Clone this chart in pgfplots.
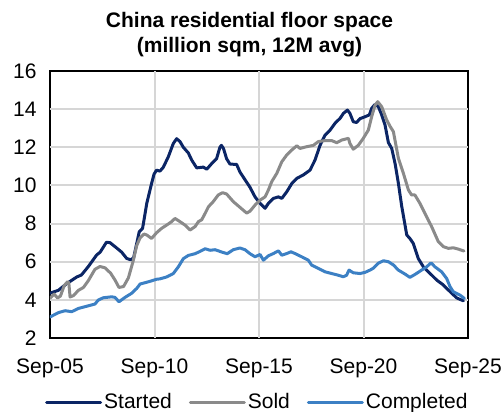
\documentclass[border=0pt]{standalone}
\usepackage{pgfplots}
\pgfplotsset{compat=1.18}
\usepackage{fontspec}
\setmainfont{Liberation Sans}
\definecolor{cStarted}{HTML}{0B2565}
\definecolor{cSold}{HTML}{8A8A8A}
\definecolor{cCompleted}{HTML}{3C80C4}
\definecolor{cGrid}{HTML}{D6D6D6}
\begin{document}
\begin{tikzpicture}
\useasboundingbox (-50pt,-74pt) rectangle (453pt,338pt);
\begin{axis}[
  scale only axis,
  width=418pt, height=267pt,
  at={(0pt,0pt)}, anchor=south west,
  xmin=0, xmax=20, ymin=2, ymax=16,
  xtick={0,5,10,15,20},
  xticklabels={Sep-05,Sep-10,Sep-15,Sep-20,Sep-25},
  ytick={2,4,...,16},
  major tick length=0pt,
  axis line style={draw=black, line width=1.3pt},
  /pgf/number format/assume math mode=true,
  tick label style={font=\fontsize{21}{24}\selectfont, text=black},
  xticklabel style={yshift=-17pt},
  yticklabel style={xshift=-10pt},
  legend style={at={(0.4960,-0.2397)}, anchor=center, draw=none, fill=none,
    font=\fontsize{21}{24}\selectfont, legend columns=3,
    /tikz/every even column/.append style={column sep=15pt},
    /tikz/every odd column/.append style={column sep=0pt}},
  legend image code/.code={\draw[#1] (0pt,0pt) -- (54pt,0pt);},
  every axis plot/.append style={line width=3pt, line join=round, line cap=round, mark=none},
  clip mode=individual,
]
\pgfplotsinvokeforeach{4,6,8,10,12,14}{
  \draw[cGrid, line width=2pt] (axis cs:0,#1) -- (axis cs:20,#1);
}
\pgfplotsinvokeforeach{5,10,15}{
  \draw[cGrid, line width=2pt] (axis cs:#1,2) -- (axis cs:#1,16);
}
\addplot[cStarted] coordinates {
(0,4.35) (0.4,4.5) (0.8,4.85) (1.28,5.2) (1.5,5.3) (1.83,5.74) (2.23,6.35) (2.4,6.5)
(2.7,7.02) (2.87,7.0) (3.1,6.8) (3.43,6.5) (3.67,6.17) (3.86,6.1) (4.0,6.2) (4.15,6.96)
(4.27,7.57) (4.43,7.75) (4.63,9.06) (4.86,10.1) (4.98,10.6) (5.1,10.8) (5.26,10.75) (5.42,10.95)
(5.66,11.5) (5.9,12.2) (6.06,12.45) (6.22,12.3) (6.38,12.0) (6.62,11.7) (6.78,11.33) (7.02,10.92)
(7.34,10.96) (7.5,10.85) (7.74,11.15) (7.97,11.4) (8.13,12.0) (8.2,12.1) (8.3,11.94) (8.45,11.4)
(8.61,11.12) (8.93,11.1) (9.09,10.7) (9.33,10.3) (9.57,9.9) (9.81,9.4) (10.05,9.06) (10.29,8.8)
(10.45,9.06) (10.69,9.32) (10.93,9.4) (11.09,9.32) (11.33,9.67) (11.57,10.1) (11.81,10.37) (12.12,10.55)
(12.44,10.8) (12.68,11.33) (12.92,12.1) (13.16,12.64) (13.4,12.9) (13.64,13.26) (13.88,13.52) (14.04,13.78)
(14.23,13.95) (14.35,13.78) (14.51,13.34) (14.67,13.3) (14.83,13.5) (15.07,13.6) (15.28,13.7) (15.39,14.04)
(15.55,14.25) (15.71,14.13) (15.87,13.7) (16.03,13.17) (16.19,12.25) (16.35,11.94) (16.51,11.15) (16.67,10.1)
(16.83,8.9) (17.07,7.4) (17.22,7.22) (17.38,6.96) (17.62,6.17) (17.86,5.74) (18.18,5.39) (18.5,5.04)
(18.82,4.78) (19.14,4.43) (19.46,4.1) (19.78,3.95)
};
\addlegendentry{Started}
\addplot[cSold] coordinates {
(0,4.08) (0.2,4.3) (0.36,4.1) (0.5,4.2) (0.68,4.75) (0.84,4.95) (0.9,4.9) (0.96,4.15)
(1.12,4.22) (1.36,4.5) (1.6,4.65) (1.83,5.0) (2.15,5.6) (2.39,5.75) (2.63,5.68) (2.9,5.4)
(3.11,5.04) (3.3,4.65) (3.52,4.7) (3.75,5.15) (3.97,6.0) (4.15,6.85) (4.31,7.25) (4.5,7.45)
(4.63,7.4) (4.86,7.22) (5.1,7.52) (5.34,7.75) (5.58,7.92) (5.82,8.1) (5.98,8.27) (6.22,8.1)
(6.46,7.92) (6.7,7.66) (6.94,7.84) (7.1,8.1) (7.26,8.2) (7.42,8.53) (7.58,8.88) (7.81,9.15)
(8.05,9.5) (8.26,9.62) (8.45,9.55) (8.77,9.15) (9.09,8.85) (9.41,8.55) (9.57,8.65) (9.81,8.97)
(10.05,9.23) (10.29,9.4) (10.45,9.76) (10.61,10.2) (10.85,10.63) (11.09,11.24) (11.33,11.6) (11.57,11.86)
(11.81,12.08) (11.96,11.94) (12.28,12.03) (12.6,12.1) (12.84,12.3) (13.16,12.35) (13.48,12.35) (13.72,12.24)
(13.96,12.38) (14.28,12.47) (14.35,12.2) (14.51,11.9) (14.75,12.1) (14.99,12.47) (15.23,12.9) (15.39,13.6)
(15.55,14.2) (15.68,14.39) (15.87,14.13) (16.11,13.43) (16.27,13.1) (16.43,12.82) (16.67,11.42) (16.91,10.63)
(17.15,9.76) (17.3,9.5) (17.46,9.5) (17.7,9.06) (17.94,8.53) (18.26,7.84) (18.58,7.05) (18.82,6.79)
(19.06,6.7) (19.3,6.73) (19.54,6.66) (19.81,6.56)
};
\addlegendentry{Sold}
\addplot[cCompleted] coordinates {
(0,3.1) (0.4,3.33) (0.72,3.43) (1.04,3.38) (1.36,3.55) (1.67,3.64) (2.15,3.78) (2.31,3.99)
(2.55,4.11) (2.95,4.16) (3.11,4.13) (3.3,3.9) (3.59,4.13) (3.9,4.34) (4.15,4.6) (4.31,4.83)
(4.55,4.9) (4.78,4.97) (5.1,5.08) (5.26,5.1) (5.58,5.2) (5.9,5.38) (6.14,5.73) (6.38,6.16)
(6.62,6.33) (6.94,6.42) (7.18,6.54) (7.42,6.68) (7.66,6.6) (7.9,6.63) (8.21,6.51) (8.48,6.42)
(8.77,6.63) (9.09,6.72) (9.33,6.63) (9.57,6.42) (9.81,6.26) (10.05,6.38) (10.21,6.08) (10.45,6.31)
(10.69,6.43) (10.93,6.57) (11.09,6.34) (11.33,6.43) (11.53,6.52) (11.72,6.43) (12.04,6.26) (12.36,6.08)
(12.52,5.82) (12.84,5.65) (13.16,5.47) (13.48,5.38) (13.8,5.29) (14.03,5.21) (14.19,5.29) (14.31,5.56)
(14.51,5.42) (14.83,5.38) (15.07,5.44) (15.31,5.56) (15.47,5.66) (15.71,5.92) (15.95,6.05) (16.19,6.0)
(16.43,5.83) (16.67,5.56) (16.99,5.35) (17.22,5.18) (17.46,5.33) (17.78,5.56) (18.02,5.73) (18.23,5.94)
(18.42,5.73) (18.74,5.47) (18.98,5.12) (19.14,4.69) (19.3,4.42) (19.62,4.25) (19.83,4.07)
};
\addlegendentry{Completed}
\end{axis}
\node[anchor=base, font=\bfseries\fontsize{21}{25}\selectfont] at (199.5pt,310pt) {China residential floor space};
\node[anchor=base, font=\bfseries\fontsize{21}{25}\selectfont] at (199.5pt,285pt) {(million sqm, 12M avg)};
\end{tikzpicture}
\end{document}
